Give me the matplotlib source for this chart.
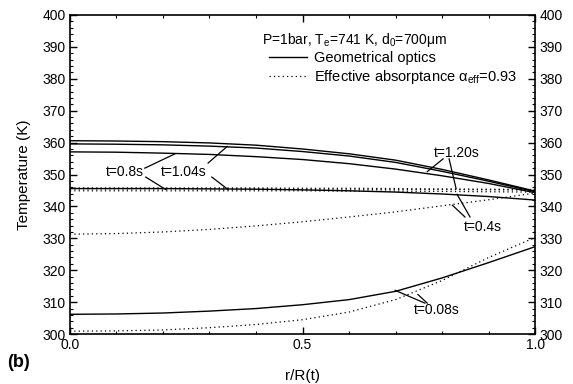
import matplotlib
matplotlib.use('Agg')
import matplotlib.pyplot as plt
from matplotlib.ticker import MultipleLocator

plt.rcParams['font.family'] = ['Liberation Sans', 'DejaVu Sans']
plt.rcParams['mathtext.fontset'] = 'custom'
plt.rcParams['mathtext.rm'] = 'Liberation Sans'
plt.rcParams['mathtext.it'] = 'Liberation Sans'

# radial position r/R(t)
r = [0.0, 0.1, 0.2, 0.3, 0.4, 0.5, 0.6, 0.7, 0.8, 0.9, 1.0]

# geometrical optics (solid)
geo_008 = [306.2, 306.3, 306.6, 307.2, 308.0, 309.2, 310.8, 313.4, 317.6, 322.4, 327.4]
geo_04 = [345.6, 345.6, 345.6, 345.5, 345.4, 345.2, 344.9, 344.5, 343.9, 343.1, 342.0]
geo_08 = [357.1, 357.0, 356.7, 356.3, 355.6, 354.7, 353.4, 351.7, 349.6, 347.2, 344.3]
geo_104 = [359.6, 359.5, 359.3, 358.9, 358.3, 357.2, 355.8, 353.8, 351.0, 347.9, 344.6]
geo_120 = [360.6, 360.5, 360.3, 359.9, 359.2, 358.0, 356.5, 354.5, 351.6, 348.3, 344.8]

# effective absorptance (dotted)
eff_008 = [300.9, 301.0, 301.3, 302.0, 303.0, 304.5, 306.9, 310.8, 316.8, 324.0, 330.3]
eff_04 = [331.3, 331.5, 332.0, 332.8, 333.9, 335.2, 336.7, 338.3, 340.2, 342.1, 344.2]
eff_08 = [344.9, 344.9, 344.9, 344.9, 344.9, 344.9, 344.8, 344.8, 344.7, 344.6, 344.5]
eff_104 = [345.5, 345.5, 345.5, 345.5, 345.5, 345.4, 345.4, 345.3, 345.3, 345.2, 345.1]
eff_120 = [345.8, 345.8, 345.8, 345.8, 345.8, 345.7, 345.7, 345.6, 345.5, 345.4, 345.3]

fig = plt.figure(figsize=(5.73, 3.84), dpi=100)
ax = fig.add_axes([0.122, 0.130, 0.812, 0.831])

lw = 1.0
for y in [geo_008, geo_04, geo_08, geo_104, geo_120]:
    ax.plot(r, y, color='black', lw=lw)
for y in [eff_008, eff_04, eff_08, eff_104, eff_120]:
    ax.plot(r, y, color='black', lw=0.9, ls=(0, (1, 2.5)))

ax.set_xlim(0, 1)
ax.set_ylim(300, 400)
ax.xaxis.set_major_locator(MultipleLocator(0.5))
ax.xaxis.set_minor_locator(MultipleLocator(0.1))
ax.yaxis.set_major_locator(MultipleLocator(10))
ax.yaxis.set_minor_locator(MultipleLocator(2))
ax.tick_params(which='both', direction='in', top=True, right=True,
               labelright=True, labelsize=10, pad=3)
ax.tick_params(which='major', length=5, width=1)
ax.tick_params(which='minor', length=2.5, width=0.8)
ax.xaxis.set_major_formatter(plt.FuncFormatter(lambda v, p: '%.1f' % v))
for s in ax.spines.values():
    s.set_linewidth(1.2)

ax.set_xlabel('r/R(t)', fontsize=11, labelpad=12)
ax.set_ylabel('Temperature (K)', fontsize=11, labelpad=8)

# legend (title drawn separately so the handles sit indented)
ax.text(0.413, 0.922, r'P=1bar, T$_{\rm e}$=741 K, d$_{\rm 0}$=700$\mu$m',
        transform=ax.transAxes, ha='left', va='center', fontsize=10)
h1, = ax.plot([], [], color='black', lw=lw)
h2, = ax.plot([], [], color='black', lw=0.9, ls=(0, (1, 2.5)))
leg = ax.legend([h1, h2], ['Geometrical optics', r'Effective absorptance $\alpha_{\rm eff}$=0.93'],
                loc='upper left', bbox_to_anchor=(0.428, 0.886), frameon=False,
                fontsize=10.5, handlelength=2.6, handletextpad=0.5,
                borderpad=0, borderaxespad=0, labelspacing=0.2)

# curve labels with leader lines
def label(txt, pos, ends):
    ax.text(pos[0], pos[1], txt, ha='center', va='center', fontsize=10)
    for (x0, y0, x1, y1) in ends:
        ax.plot([x0, x1], [y0, y1], color='black', lw=0.9)

label('t=1.20s', (0.832, 356.7), [(0.802, 354.9, 0.768, 350.9), (0.815, 354.9, 0.830, 345.6)])
label('t=0.4s', (0.888, 333.5), [(0.860, 336.7, 0.832, 343.8), (0.849, 336.7, 0.822, 340.4)])
label('t=0.8s', (0.118, 350.8), [(0.161, 352.0, 0.226, 356.5), (0.163, 349.2, 0.206, 345.3)])
label('t=1.04s', (0.245, 350.8), [(0.297, 353.6, 0.338, 358.8), (0.305, 349.2, 0.340, 345.3)])
label('t=0.08s', (0.789, 307.4), [(0.763, 309.7, 0.699, 313.7), (0.768, 309.7, 0.748, 312.4)])

fig.text(0.012, 0.045, '(b)', fontsize=13, fontweight='bold')

fig.savefig('out.png', dpi=100)
